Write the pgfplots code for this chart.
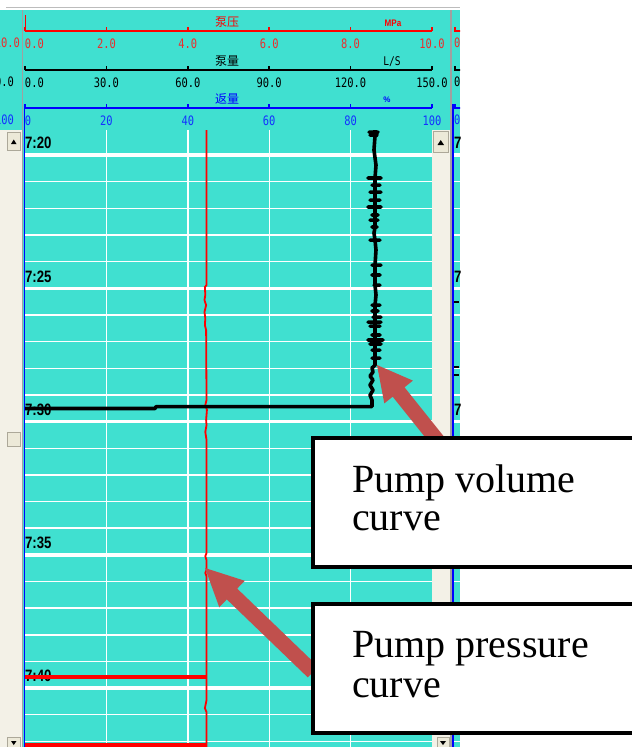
\documentclass[border=0pt]{standalone}
\usepackage{pgfplots}
\pgfplotsset{compat=1.18}
\usepackage{pgfplotstable}
\usepackage{fontspec}
\setmainfont{Liberation Serif}
\newfontfamily\cjk{Noto Sans CJK SC}
\newfontfamily\mono{DejaVu Sans Mono}
\newfontfamily\sans{Liberation Sans}
\definecolor{turq}{RGB}{64,224,208}
\definecolor{scrl}{RGB}{243,241,231}
\definecolor{btn}{RGB}{236,233,216}
\definecolor{btnb}{RGB}{172,168,153}
\definecolor{sep}{RGB}{160,160,160}
\definecolor{arr}{RGB}{192,80,77}
\definecolor{lblred}{RGB}{235,45,45}
\definecolor{lblblue}{RGB}{20,50,255}
\newcommand\hdrfont{\mono\fontsize{13bp}{13bp}\selectfont}
\newcommand\timefont{\sans\bfseries\fontsize{16.5bp}{16.5bp}\selectfont}
\newcommand\cjkfont{\cjk\fontsize{12bp}{12bp}\selectfont}

% pump volume (L/s) vs time (minutes after 7:00)
\pgfplotstableread{
Ls t
129.0 19.06
129.0 19.14
126.78 19.14
130.10 19.14
129.0 19.17
129.0 19.25
127.15 19.25
129.73 19.25
129.0 19.29
128.62 19.81
129.36 20.38
129.0 20.86
126.41 20.86
131.20 20.86
129.0 20.86
129.0 21.13
127.89 21.13
130.84 21.13
129.0 21.13
129.0 21.39
127.15 21.39
131.20 21.39
129.0 21.39
129.0 21.69
127.15 21.69
130.84 21.69
129.0 21.69
129.0 21.95
126.41 21.95
131.20 21.95
129.0 21.95
129.0 22.25
127.89 22.25
130.10 22.25
129.0 22.25
129.0 22.44
127.15 22.44
130.10 22.44
129.0 22.44
129.0 22.70
127.89 22.70
129.73 22.70
129.0 22.70
128.62 22.93
129.0 23.19
127.15 23.19
130.84 23.19
129.0 23.19
129.36 23.56
129.0 24.13
127.89 24.13
131.20 24.13
129.0 24.13
129.0 24.50
127.89 24.50
130.84 24.50
129.0 24.50
129.0 24.88
128.62 24.88
130.84 24.88
129.0 24.88
129.36 25.25
129.0 25.63
127.89 25.63
130.84 25.63
129.0 25.63
129.0 25.85
127.89 25.85
130.10 25.85
129.0 25.85
129.0 26.08
128.25 26.08
131.20 26.08
129.0 26.08
129.0 26.27
126.41 26.27
131.20 26.27
129.0 26.27
129.0 26.42
127.15 26.42
130.84 26.42
129.0 26.42
129.0 26.75
127.89 26.75
130.84 26.75
129.0 26.75
129.0 26.94
126.41 26.94
131.94 26.94
129.0 26.94
129.0 27.09
127.15 27.09
131.20 27.09
129.0 27.09
129.0 27.32
127.89 27.32
130.84 27.32
129.0 27.32
129.0 27.62
127.89 27.62
130.84 27.62
129.0 27.62
129.0 27.88
127.89 27.99
128.25 28.14
127.15 28.29
128.25 28.44
127.15 28.63
128.25 28.82
127.15 29.01
127.89 29.19
127.89 29.44
48.28 29.44
47.91 29.51
0 29.51
}\volume

% pump pressure (MPa) vs time
\pgfplotstableread{
P t
4.46 19.06
4.46 24.88
4.42 24.95
4.43 25.25
4.41 25.44
4.45 25.63
4.41 25.89
4.43 26.12
4.42 26.38
4.45 26.57
4.46 29.19
4.43 29.38
4.47 29.56
4.45 29.94
4.46 30.13
4.43 30.39
4.46 30.69
4.46 34.93
4.43 35.05
4.46 35.20
4.46 35.57
4.43 35.68
4.46 35.80
4.46 40.45
4.42 40.75
4.46 40.90
4.46 42.21
}\pressure

\pgfplotsset{hdr/.style={
  scale only axis, width=407bp, height=6bp, anchor=south west,
  ymin=0, ymax=1, axis y line=none, axis x line*=bottom,
  tick align=inside, major tick length=4.5bp,
  axis line style={line width=2bp}, tick style={line width=1.5bp},
  xticklabel style={font=\hdrfont, xscale=0.8, inner sep=1bp, yshift=-6.5bp},
  clip=false,
}}

\begin{document}
\begin{tikzpicture}[font=\sans]
\useasboundingbox (0,0) rectangle (632bp,-747bp);
\fill[white] (0,0) rectangle (632bp,-747bp);
\fill[turq] (0,-10bp) rectangle (460bp,-747bp);
\draw[sep!70, line width=1bp] (6bp,-7.5bp) -- (460bp,-7.5bp);
% left scrollbar
\fill[scrl] (0,-130bp) rectangle (22bp,-747bp);
\draw[btnb, fill=btn] (7.5bp,-132.5bp) rectangle (20bp,-150bp);
\fill (11bp,-144bp) -- (16.5bp,-144bp) -- (13.75bp,-139.5bp) -- cycle;
\draw[btnb, fill=btn] (7.5bp,-432bp) rectangle (20bp,-446bp);
\draw[btnb, fill=btn] (7.5bp,-737bp) rectangle (20bp,-750bp);
\fill (11bp,-741bp) -- (16.5bp,-741bp) -- (13.75bp,-745bp) -- cycle;
% right scrollbar
\fill[scrl] (432bp,-130bp) rectangle (451bp,-747bp);
\draw[btnb, fill=btn] (433.5bp,-131.5bp) rectangle (448bp,-152bp);
\fill (437.5bp,-145bp) -- (444bp,-145bp) -- (440.75bp,-140bp) -- cycle;
\draw[btnb, fill=btn] (437bp,-737bp) rectangle (449bp,-750bp);
\fill (440bp,-741bp) -- (446bp,-741bp) -- (443bp,-745bp) -- cycle;
% separators
\draw[sep, line width=1.5bp] (22.5bp,-10bp) -- (22.5bp,-747bp);
\draw[sep, line width=1.5bp] (451bp,-10bp) -- (451bp,-747bp);

% main chart
\begin{axis}[
  at={(25bp,-130bp)}, anchor=north west,
  scale only axis, width=407bp, height=617bp,
  xmin=0, xmax=10, ymin=19.06, ymax=42.21, y dir=reverse,
  axis background/.style={fill=turq},
  axis line style={draw=none},
  xtick={2,4,6,8}, ytick={20,21,...,42},
  xticklabels={}, yticklabels={},
  major tick length=0pt,
  grid=major, major grid style={white, line width=1.4bp},
  extra y ticks={20,25,30,35,40}, extra y tick labels={},
  extra y tick style={major grid style={white, line width=3.5bp}},
]
\node[anchor=west, inner sep=0pt, font=\timefont, xscale=0.8] at (axis cs:0,19.55) {7:20};
\node[anchor=west, inner sep=0pt, font=\timefont, xscale=0.8] at (axis cs:0,24.55) {7:25};
\node[anchor=west, inner sep=0pt, font=\timefont, xscale=0.8] at (axis cs:0,29.55) {7:30};
\node[anchor=west, inner sep=0pt, font=\timefont, xscale=0.8] at (axis cs:0,34.55) {7:35};
\node[anchor=west, inner sep=0pt, font=\timefont, xscale=0.8] at (axis cs:0,39.55) {7:40};
\addplot[red, line width=1.8bp] table[x=P, y=t] {\pressure};
\addplot[red, line width=3.5bp] coordinates {(0,39.59) (4.46,39.59)};
\addplot[red, line width=3.5bp] coordinates {(0,42.13) (4.46,42.13)};
\addplot[black, line width=3.6bp, line join=round, line cap=round, x filter/.expression={x/15}] table[x=Ls, y=t] {\volume};
\end{axis}

% right neighbour column
\begin{axis}[
  at={(454bp,-130bp)}, anchor=north west,
  scale only axis, width=6bp, height=617bp,
  xmin=0, xmax=1, ymin=19.06, ymax=42.21, y dir=reverse,
  axis line style={draw=none}, xtick=\empty,
  ytick={20,21,...,42}, yticklabels={}, major tick length=0pt,
  ymajorgrids, major grid style={white, line width=1.4bp},
  extra y ticks={20,25,30,35,40}, extra y tick labels={},
  extra y tick style={major grid style={white, line width=3.5bp}},
]
\node[anchor=west, inner sep=0pt, font=\timefont, xscale=0.8] at (axis cs:0,19.55) {7};
\node[anchor=west, inner sep=0pt, font=\timefont, xscale=0.8] at (axis cs:0,24.55) {7};
\node[anchor=west, inner sep=0pt, font=\timefont, xscale=0.8] at (axis cs:0,29.55) {7};
\node[anchor=west, inner sep=0pt, font=\timefont, xscale=0.8] at (axis cs:0,34.55) {7};
\node[anchor=west, inner sep=0pt, font=\timefont, xscale=0.8] at (axis cs:0,39.55) {7};
\addplot[black, line width=2.5bp] coordinates {(0,25.52) (0.8,25.52)};
\addplot[black, line width=2.5bp] coordinates {(0,27.95) (0.9,27.95)};
\addplot[black, line width=2.5bp] coordinates {(0,28.25) (0.9,28.25)};
\end{axis}

% header scales
\begin{axis}[hdr, at={(25bp,-31bp)}, xmin=0, xmax=10, xtick={0,2,...,10},
  xticklabels={{\makebox[0pt][l]{0.0}},2.0,4.0,6.0,8.0,10.0},
  axis line style={red}, tick style={red}, xticklabel style={text=lblred}]
\end{axis}
\begin{axis}[hdr, at={(25bp,-70bp)}, xmin=0, xmax=150, xtick={0,30,...,150},
  xticklabels={{\makebox[0pt][l]{0.0}},30.0,60.0,90.0,120.0,150.0},
  axis line style={black}, tick style={black}]
\end{axis}
\begin{axis}[hdr, at={(25bp,-108bp)}, xmin=0, xmax=100, xtick={0,20,...,100},
  xticklabels={{\makebox[0pt][l]{0}},20,40,60,80,100},
  axis line style={blue}, tick style={blue}, xticklabel style={text=lblblue}]
\end{axis}
\draw[red, line width=1bp] (25.5bp,-15bp) -- (25.5bp,-31bp);
\node[text=red, font=\cjkfont] at (227bp,-22bp) {泵压};
\node[text=red, font=\sans\bfseries\fontsize{9.5bp}{9.5bp}\selectfont, xscale=0.85] at (393bp,-23bp) {MPa};
\node[font=\cjkfont] at (227bp,-61bp) {泵量};
\node[font=\mono\fontsize{12bp}{12bp}\selectfont, xscale=0.8] at (392bp,-62bp) {L/S};
\node[text=blue, font=\cjkfont] at (227bp,-99bp) {返量};
\node[text=blue, font=\sans\bfseries\fontsize{8bp}{8bp}\selectfont] at (387bp,-100bp) {\%};
% left / right blue borders
\draw[blue, line width=1.5bp] (24.5bp,-104bp) -- (24.5bp,-747bp);
\draw[blue, line width=1.3bp] (453bp,-104bp) -- (453bp,-747bp);
% clipped neighbour labels
\begin{scope}
\clip (0,-10bp) rectangle (21.5bp,-130bp);
\node[anchor=east, text=lblred, font=\hdrfont, xscale=0.8, inner sep=0pt] at (20bp,-43bp) {10.0};
\node[anchor=east, font=\hdrfont, xscale=0.8, inner sep=0pt] at (14bp,-82bp) {150.0};
\node[anchor=east, text=lblblue, font=\hdrfont, xscale=0.8, inner sep=0pt] at (14bp,-120bp) {100};
\end{scope}
\begin{scope}
\clip (453.7bp,-10bp) rectangle (460bp,-130bp);
\draw[red, line width=2bp] (454bp,-31bp) -- (464bp,-31bp);
\draw[red, line width=1.5bp] (455bp,-31bp) -- (455bp,-26.5bp);
\draw[black, line width=2bp] (454bp,-70bp) -- (464bp,-70bp);
\draw[black, line width=1.5bp] (455bp,-70bp) -- (455bp,-65.5bp);
\draw[blue, line width=2bp] (454bp,-108bp) -- (464bp,-108bp);
\draw[blue, line width=1.5bp] (455bp,-108bp) -- (455bp,-103.5bp);
\node[anchor=west, text=lblred, font=\hdrfont, xscale=0.8, inner sep=0pt] at (454bp,-43bp) {0};
\node[anchor=west, font=\hdrfont, xscale=0.8, inner sep=0pt] at (454bp,-82bp) {0};
\node[anchor=west, text=lblblue, font=\hdrfont, xscale=0.8, inner sep=0pt] at (454bp,-120bp) {0};
\end{scope}

% annotation arrows
\fill[arr] (377bp,-365bp) -- (412.9bp,-380.6bp) -- (404.5bp,-387.3bp) -- (451.7bp,-446.3bp)
  -- (439.9bp,-455.7bp) -- (392.7bp,-396.7bp) -- (384.3bp,-403.4bp) -- cycle;
\fill[arr] (205bp,-568bp) -- (244.75bp,-580.75bp) -- (237.2bp,-588.6bp) -- (318.2bp,-666.6bp)
  -- (307.8bp,-677.4bp) -- (226.8bp,-599.4bp) -- (219.25bp,-607.25bp) -- cycle;
% annotation boxes
\draw[black, line width=3.5bp, fill=white] (313bp,-438bp) rectangle (645bp,-567bp);
\draw[black, line width=3.5bp, fill=white] (313bp,-604bp) rectangle (645bp,-733bp);
\begin{scope}[font=\fontsize{40bp}{40bp}\selectfont]
\node[anchor=base west, inner sep=0pt] at (352bp,-492bp) {Pump volume};
\node[anchor=base west, inner sep=0pt] at (352bp,-530bp) {curve};
\node[anchor=base west, inner sep=0pt] at (352bp,-657bp) {Pump pressure};
\node[anchor=base west, inner sep=0pt] at (352bp,-697bp) {curve};
\end{scope}
\end{tikzpicture}
\end{document}
